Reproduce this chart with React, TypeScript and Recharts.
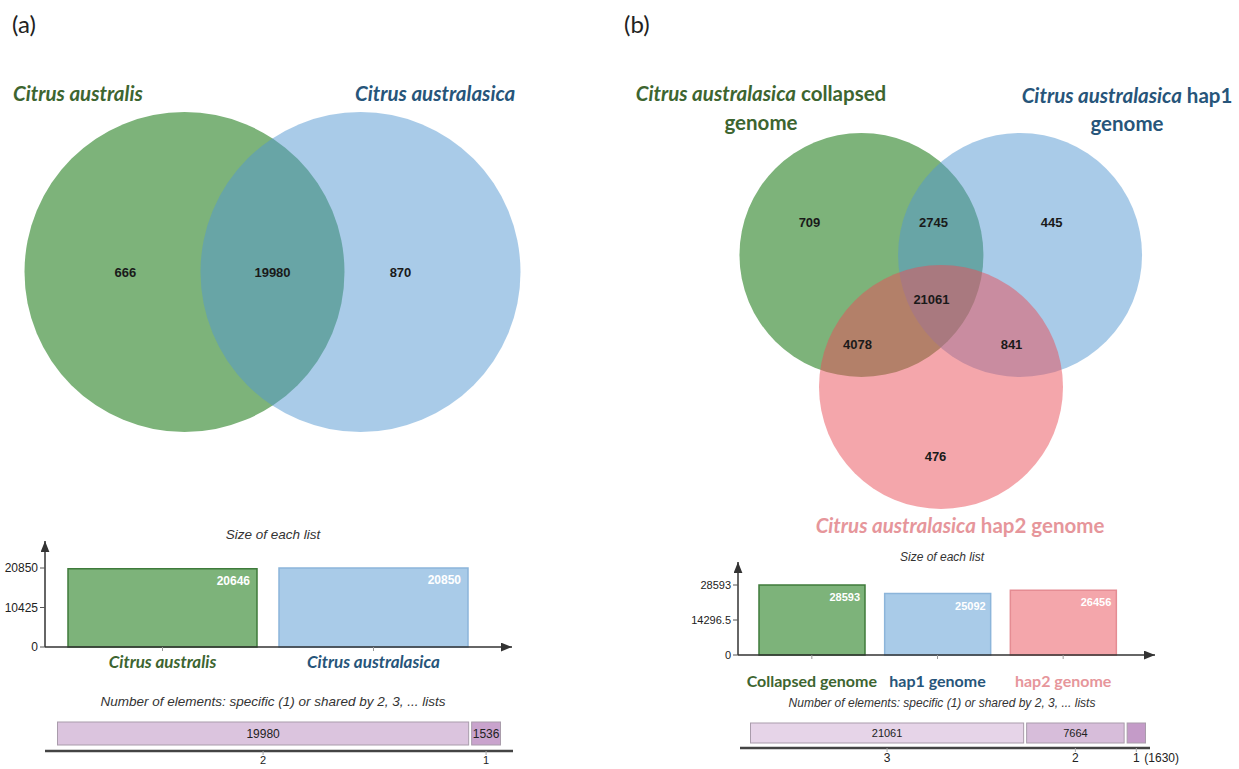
import React from "react";
import { BarChart, Bar, XAxis, YAxis, Cell, LabelList, ScatterChart, Scatter } from "recharts";

// ---- panel (a): two species ----
const regionCountsA = [666, 19980, 870]; // only australis, shared, only australasica
const listNamesA = ["Citrus australis", "Citrus australasica"];
const listSizesA = [20646, 20850];
const sizeTicksA = [0, 10425, 20850];
const sharedCountsA = [19980, 1536];
const sharedTickLabelsA = ["2", "1"];

// ---- panel (b): three genome assemblies ----
const regionCountsB = [709, 2745, 445, 21061, 4078, 841, 476];
const listNamesB = ["Collapsed genome", "hap1 genome", "hap2 genome"];
const listSizesB = [28593, 25092, 26456];
const sizeTicksB = [0, 14296.5, 28593];
const sharedCountsB = [21061, 7664, 1630];
const sharedTickLabelsB = ["3", "2", "1 (1630)"];

// venn layout, in circle radii
const circlePosA = [[-0.55, 0], [0.55, 0]];
const regionPosA = [[-0.92, 0], [0, 0], [0.8, 0]];
const circlePosB = [[-0.652, 0.361], [0.648, 0.361], [0, -0.721]];
const regionPosB = [
  [-1.078, 0.623], [-0.061, 0.623], [0.906, 0.623],
  [-0.078, 0], [-0.684, -0.377], [0.578, -0.377], [-0.045, -1.295],
];

const circleFill = ["#7db37a", "#5397d1", "#e94d57"];
const circleOpacity = [1, 0.5, 0.5];
const barFill = ["#7db37a", "#a9cbe8", "#f4a6ab"];
const barStroke = ["#3f7b3b", "#8cb5da", "#e58c93"];
const titleColor = ["#3d6530", "#27557a", "#e6969b"];
const segFillA = ["#dbc4de", "#c9a3cd"];
const segFillB = ["#e6d4e8", "#d7bdda", "#c49bc8"];

const Txt = ({ x, y, size, lh, anchor = "start", color = "#222", weight = "normal", italic = false, family = "Lato", children }: any) => (
  <div
    style={{
      position: "absolute", left: x, top: y - lh / 2, lineHeight: lh + "px", fontSize: size,
      transform: anchor === "middle" ? "translateX(-50%)" : undefined, whiteSpace: "nowrap",
      color, fontWeight: weight, fontStyle: italic ? "italic" : "normal", fontFamily: family, textAlign: "center",
    }}
  >
    {children}
  </div>
);

function Venn({ width, height, unitPx, circles, labels }: any) {
  const hx = width / 2 / unitPx;
  const hy = height / 2 / unitPx;
  return (
    <ScatterChart width={width} height={height} margin={{ top: 0, right: 0, bottom: 0, left: 0 }}>
      <XAxis type="number" dataKey="x" domain={[-hx, hx]} hide />
      <YAxis type="number" dataKey="y" domain={[-hy, hy]} hide />
      <Scatter
        data={circles}
        isAnimationActive={false}
        shape={(p: any) => (
          <circle cx={p.cx} cy={p.cy} r={unitPx} fill={p.payload.fill} fillOpacity={p.payload.opacity} />
        )}
      />
      <Scatter
        data={labels}
        isAnimationActive={false}
        shape={(p: any) => (
          <text x={p.cx} y={p.cy} dy={4.5} textAnchor="middle" fontFamily="Arial" fontWeight="bold" fontSize={13} fill="#1a1a1a">
            {p.payload.value}
          </text>
        )}
      />
    </ScatterChart>
  );
}

function SizeChart(o: any) {
  const data = o.names.map((n: string, i: number) => ({ name: n, value: o.sizes[i] }));
  return (
    <BarChart width={o.width} height={o.height} data={data} margin={o.margin} barCategoryGap={o.gap}>
      <XAxis
        dataKey="name"
        interval={0}
        height={o.xHeight}
        padding={{ left: o.padLeft, right: o.padRight }}
        axisLine={{ stroke: "#333", strokeWidth: 1.5, markerEnd: "url(#axisArrow)" }}
        tickLine={{ stroke: "#999" }}
        tickSize={4}
        tick={(p: any) => (
          <text x={p.x} y={p.y + o.catDy} textAnchor="middle" fill={titleColor[p.index]} fontFamily="Lato" fontWeight="bold"
            fontStyle={o.italic ? "italic" : "normal"} fontSize={o.catFont}>
            {p.payload.value}
          </text>
        )}
      />
      <YAxis
        type="number"
        domain={[0, o.ticks[o.ticks.length - 1]]}
        ticks={o.ticks}
        interval={0}
        width={o.yWidth}
        padding={{ top: o.padTop }}
        axisLine={{ stroke: "#333", strokeWidth: 1.5, markerStart: "url(#axisArrow)" }}
        tickLine={{ stroke: "#555" }}
        tickSize={5}
        tick={{ fontSize: o.tickFont, fill: "#222", fontFamily: "Arial" }}
      />
      <Bar dataKey="value" isAnimationActive={false} strokeWidth={1.5}>
        {data.map((d: any, i: number) => (
          <Cell key={d.name} fill={barFill[i]} stroke={barStroke[i]} />
        ))}
        <LabelList
          dataKey="value"
          content={(p: any) => (
            <text x={p.x + p.width - o.inset} y={p.y + o.valueDy} textAnchor="end" fill="#fff" fontFamily="Arial" fontWeight="bold" fontSize={o.valueFont}>
              {p.value}
            </text>
          )}
        />
      </Bar>
    </BarChart>
  );
}

function SharedChart(o: any) {
  const row: any = { name: "shared" };
  o.counts.forEach((c: number, i: number) => (row["s" + i] = c));
  const total = o.counts.reduce((a: number, b: number) => a + b, 0);
  const mids: number[] = [];
  let acc = 0;
  o.counts.forEach((c: number) => {
    mids.push(acc + c / 2);
    acc += c;
  });
  return (
    <BarChart layout="vertical" width={o.width} height={o.height} data={[row]} margin={o.margin} barCategoryGap={o.gap}>
      <XAxis
        type="number"
        domain={[0, total]}
        ticks={mids}
        interval={0}
        height={20}
        padding={{ left: o.padLeft, right: o.padRight }}
        axisLine={{ stroke: "#444", strokeWidth: 2.5 }}
        tickLine={{ stroke: "#aaa" }}
        tickSize={4}
        tick={(p: any) => {
          const lab: string = o.labels[p.index] || "";
          const head = lab.split(" ")[0];
          const tail = lab.slice(head.length).trim();
          return (
            <g>
              <text x={p.x} y={p.y + o.tickDy} textAnchor="middle" fontFamily="Arial" fontSize={o.tickFont} fill="#222">{head}</text>
              {tail && (
                <text x={p.x + 8} y={p.y + o.tickDy} textAnchor="start" fontFamily="Arial" fontSize={o.tickFont} fill="#222">{tail}</text>
              )}
            </g>
          );
        }}
      />
      <YAxis type="category" dataKey="name" hide />
      {o.counts.map((c: number, i: number) => (
        <Bar
          key={i}
          dataKey={"s" + i}
          stackId="s"
          fill={o.fills[i]}
          isAnimationActive={false}
          shape={(p: any) => (
            <rect x={p.x + 1.5} y={p.y} width={Math.max(p.width - 3, 0)} height={p.height} fill={p.fill} stroke="#a99cab" strokeWidth={1} />
          )}
        >
          <LabelList
            dataKey={"s" + i}
            content={(p: any) =>
              p.width < 25 ? null : (
                <text x={p.x + p.width / 2} y={p.y + p.height / 2 + 4} textAnchor="middle" fontFamily="Arial" fontSize={o.font} fill="#222">
                  {p.value}
                </text>
              )
            }
          />
        </Bar>
      ))}
    </BarChart>
  );
}

export default function App() {
  const circlesA = circlePosA.map((p, i) => ({ x: p[0], y: p[1], fill: circleFill[i], opacity: circleOpacity[i] }));
  const labelsA = regionCountsA.map((v, i) => ({ x: regionPosA[i][0], y: regionPosA[i][1], value: v }));
  const circlesB = circlePosB.map((p, i) => ({ x: p[0], y: p[1], fill: circleFill[i], opacity: circleOpacity[i] }));
  const labelsB = regionCountsB.map((v, i) => ({ x: regionPosB[i][0], y: regionPosB[i][1], value: v }));

  return (
    <div style={{ position: "absolute", left: 0, top: 0, width: 1239, height: 769, overflow: "hidden", background: "#fff", fontFamily: "Arial" }}>
      <svg width={0} height={0} style={{ position: "absolute" }}>
        <defs>
          <marker id="axisArrow" viewBox="0 0 10 8" refX={10} refY={4} markerWidth={11} markerHeight={9} markerUnits="userSpaceOnUse" orient="auto-start-reverse">
            <path d="M0,0 L10,4 L0,8 Z" fill="#333" />
          </marker>
        </defs>
      </svg>

      <div style={{ position: "absolute", left: 0, top: 100 }}>
        <Venn width={545} height={344} unitPx={160} circles={circlesA} labels={labelsA} />
      </div>
      <div style={{ position: "absolute", left: 641, top: 79 }}>
        <Venn width={600} height={440} unitPx={122} circles={circlesB} labels={labelsB} />
      </div>

      <div style={{ position: "absolute", left: 0, top: 520 }}>
        <SizeChart names={listNamesA} sizes={listSizesA} ticks={sizeTicksA} width={540} height={162}
          margin={{ top: 21, right: 28, left: 5, bottom: 5 }} gap={11} xHeight={30} yWidth={40}
          padLeft={12} padRight={33} padTop={27} tickFont={12} catFont={17} catDy={15} italic
          valueFont={12} valueDy={16} inset={7} />
      </div>
      <div style={{ position: "absolute", left: 690, top: 540 }}>
        <SizeChart names={listNamesB} sizes={listSizesB} ticks={sizeTicksB} width={500} height={160}
          margin={{ top: 22, right: 35, left: 3, bottom: 5 }} gap={10} xHeight={40} yWidth={45}
          padLeft={11} padRight={29} padTop={23} tickFont={11} catFont={16} catDy={26} italic={false}
          valueFont={11} valueDy={16} inset={5} />
      </div>

      <div style={{ position: "absolute", left: 0, top: 712 }}>
        <SharedChart counts={sharedCountsA} labels={sharedTickLabelsA} fills={segFillA} width={540} height={70}
          margin={{ top: 4, right: 27, left: 45, bottom: 11 }} gap={6} padLeft={11} padRight={11} font={12} tickDy={7} tickFont={11} />
      </div>
      <div style={{ position: "absolute", left: 690, top: 712 }}>
        <SharedChart counts={sharedCountsB} labels={sharedTickLabelsB} fills={segFillB} width={500} height={70}
          margin={{ top: 6, right: 40, left: 50, bottom: 14 }} gap={5} padLeft={9} padRight={3} font={11} tickDy={8} tickFont={12} />
      </div>

      <Txt x={12} y={24} size={24} lh={30}>(a)</Txt>
      <Txt x={624} y={24} size={24} lh={30}>(b)</Txt>

      <Txt x={13} y={93} size={20.5} lh={28} weight="bold" italic color={titleColor[0]}>Citrus australis</Txt>
      <Txt x={355} y={93} size={20.5} lh={28} weight="bold" italic color={titleColor[1]}>Citrus australasica</Txt>

      <Txt x={761} y={93} size={20.5} lh={29} anchor="middle" weight="bold" color={titleColor[0]}>
        <i>Citrus australasica</i> collapsed<br />genome
      </Txt>
      <Txt x={1127} y={95} size={20.5} lh={28} anchor="middle" weight="bold" color={titleColor[1]}>
        <i>Citrus australasica</i> hap1<br />genome
      </Txt>
      <Txt x={960} y={525} size={20.5} lh={28} anchor="middle" weight="bold" color={titleColor[2]}>
        <i>Citrus australasica</i> hap2 genome
      </Txt>

      <Txt x={273} y={535} size={13.5} lh={18} anchor="middle" italic family="Arial" color="#333">Size of each list</Txt>
      <Txt x={942} y={557} size={12} lh={16} anchor="middle" italic family="Arial" color="#333">Size of each list</Txt>
      <Txt x={273} y={702} size={13.5} lh={18} anchor="middle" italic family="Arial" color="#333">
        Number of elements: specific (1) or shared by 2, 3, ... lists
      </Txt>
      <Txt x={942} y={703} size={12} lh={16} anchor="middle" italic family="Arial" color="#333">
        Number of elements: specific (1) or shared by 2, 3, ... lists
      </Txt>
    </div>
  );
}
